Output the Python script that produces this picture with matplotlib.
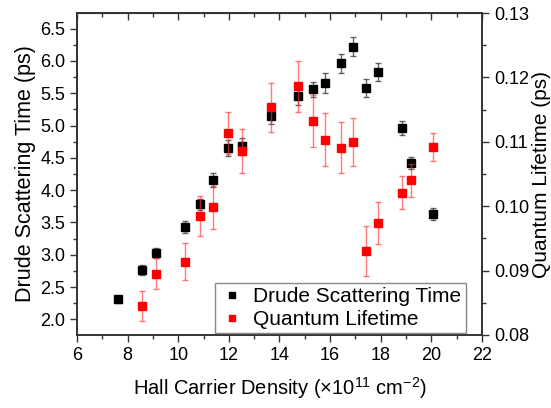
import matplotlib.pyplot as plt
from matplotlib.ticker import MultipleLocator
from matplotlib.lines import Line2D

plt.rcParams['font.family'] = ['Liberation Sans', 'DejaVu Sans']
plt.rcParams['mathtext.fontset'] = 'custom'
plt.rcParams['mathtext.rm'] = 'Liberation Sans'
plt.rcParams['mathtext.it'] = 'Liberation Sans:italic'

# Hall carrier density (x1e11 cm^-2)
density = [7.62, 8.56, 9.14, 10.27, 10.85, 11.37, 11.95, 12.53, 13.66, 14.74,
           15.34, 15.79, 16.42, 16.89, 17.43, 17.91, 18.84, 19.20, 20.06]

# Drude scattering time (ps), left axis
drude = [2.31, 2.77, 3.03, 3.43, 3.78, 4.16, 4.65, 4.68, 5.15, 5.46,
         5.56, 5.66, 5.96, 6.22, 5.58, 5.83, 4.96, 4.42, 3.63]
drude_err = [0.05, 0.08, 0.08, 0.10, 0.085, 0.11, 0.12, 0.13, 0.13, 0.15,
             0.12, 0.15, 0.15, 0.15, 0.14, 0.14, 0.11, 0.10, 0.09]

# Quantum lifetime (ps), right axis (no point at the lowest density)
density_q = density[1:]
quantum = [0.0845, 0.0895, 0.0914, 0.0985, 0.0998, 0.1114, 0.1086, 0.1154, 0.1186,
           0.1132, 0.1103, 0.1091, 0.1100, 0.0930, 0.0974, 0.1021, 0.1040, 0.1092]
quantum_err = [0.0023, 0.0024, 0.0029, 0.0031, 0.0033, 0.0033, 0.0034, 0.0038, 0.0039,
               0.0040, 0.0041, 0.0040, 0.0037, 0.0039, 0.0033, 0.0026, 0.0025, 0.0022]

fig = plt.figure(figsize=(5.51, 4.08), dpi=100)
ax = fig.add_axes([0.1397, 0.179, 0.735, 0.789])
ax2 = ax.twinx()

ax.errorbar(density, drude, yerr=drude_err, fmt='s', color='black', markersize=5.8,
            ecolor=(0.2, 0.2, 0.2, 0.75), elinewidth=1, capsize=2.5, capthick=1)
ax2.errorbar(density_q, quantum, yerr=quantum_err, fmt='s', color='red', markersize=5.8,
             ecolor=(1, 0.2, 0.2, 0.65), elinewidth=1, capsize=2.5, capthick=1)

ax.set_xlim(6, 22)
ax.set_ylim(1.76, 6.74)
ax2.set_ylim(0.08, 0.13)

ax.xaxis.set_major_locator(MultipleLocator(2))
ax.xaxis.set_minor_locator(MultipleLocator(1))
ax.yaxis.set_major_locator(MultipleLocator(0.5))
ax.yaxis.set_minor_locator(MultipleLocator(0.25))
ax2.yaxis.set_major_locator(MultipleLocator(0.01))
ax2.yaxis.set_minor_locator(MultipleLocator(0.005))
ax2.yaxis.set_major_formatter(lambda v, p: f"{v:.2f}")
ax.yaxis.set_major_formatter(lambda v, p: f"{v:.1f}")

spine_col = '#333333'
for a in (ax, ax2):
    for s in a.spines.values():
        s.set_color(spine_col)
        s.set_linewidth(1.2)
    a.tick_params(which='major', direction='out', length=5, width=1, color=spine_col,
                  labelsize=13)
    a.tick_params(which='minor', direction='out', length=3, width=1, color=spine_col)

top = ax.secondary_xaxis('top')
top.xaxis.set_major_locator(MultipleLocator(2))
top.xaxis.set_minor_locator(MultipleLocator(1))
top.tick_params(which='major', direction='in', length=5, width=1, color=spine_col, labeltop=False)
top.tick_params(which='minor', direction='in', length=3, width=1, color=spine_col)
top.spines['top'].set_color(spine_col)

ax.set_xlabel(r"Hall Carrier Density ($\times$10$^{11}$ cm$^{-2}$)", fontsize=14.5, labelpad=8)
ax.set_ylabel("Drude Scattering Time (ps)", fontsize=15.5, labelpad=3)
ax2.set_ylabel("Quantum Lifetime (ps)", fontsize=15, labelpad=2)

handles = [
    Line2D([], [], marker='s', color='black', linestyle='none', markersize=4.5),
    Line2D([], [], marker='s', color='red', linestyle='none', markersize=4.5),
]
leg = ax2.legend(handles, ["Drude Scattering Time", "Quantum Lifetime"],
                 loc='lower right', bbox_to_anchor=(0.96, 0.005), borderaxespad=0,
                 fontsize=15, fancybox=False, framealpha=1, edgecolor='#888888',
                 handlelength=1.2, handletextpad=0.45, borderpad=0.2, labelspacing=0.2)
leg.get_frame().set_linewidth(1)

fig.savefig("out.png", dpi=100)
